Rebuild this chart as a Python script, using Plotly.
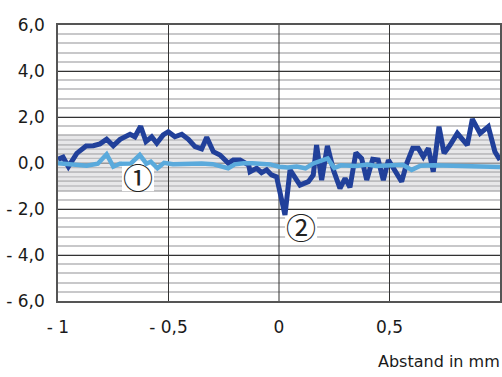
import plotly.graph_objects as go

# Series 1 (light blue)
s1_x = [-1.0, -0.95, -0.90, -0.87, -0.82, -0.78, -0.75, -0.72, -0.67, -0.63, -0.60, -0.58,
        -0.55, -0.52, -0.48, -0.44, -0.40, -0.35, -0.30, -0.25, -0.23, -0.20, -0.16, -0.12,
        -0.08, -0.04, 0.0, 0.04, 0.08, 0.12, 0.155, 0.22, 0.25, 0.28, 0.35, 0.40, 0.44, 0.50,
        0.56, 0.60, 0.64, 0.70, 0.80, 0.85, 0.92, 1.0]
s1_y = [-0.01, -0.05, -0.08, -0.12, -0.03, 0.38, -0.16, -0.03, -0.02, 0.35, -0.03, 0.06,
        -0.23, 0.01, -0.05, -0.03, -0.04, -0.02, -0.05, -0.16, -0.23, -0.06, -0.01, -0.01,
        -0.04, -0.06, -0.16, -0.20, -0.15, -0.23, -0.02, 0.20, -0.22, -0.10, -0.13, -0.07,
        -0.13, -0.10, -0.08, -0.30, -0.12, -0.10, -0.12, -0.14, -0.16, -0.17]

# Series 2 (dark blue)
s2_x = [-1.0, -0.977, -0.953, -0.915, -0.873, -0.840, -0.810, -0.780, -0.750, -0.719,
        -0.674, -0.652, -0.626, -0.602, -0.576, -0.553, -0.524, -0.501, -0.471, -0.440,
        -0.410, -0.380, -0.350, -0.327, -0.297, -0.267, -0.229, -0.207, -0.176, -0.137,
        -0.131, -0.101, -0.079, -0.056, -0.034, -0.011, 0.027, 0.05, 0.095, 0.133, 0.155,
        0.17, 0.193, 0.219, 0.246, 0.276, 0.299, 0.321, 0.348, 0.374, 0.397, 0.424, 0.449,
        0.472, 0.495, 0.517, 0.555, 0.578, 0.605, 0.63, 0.653, 0.676, 0.698, 0.724, 0.747,
        0.774, 0.807, 0.852, 0.875, 0.910, 0.947, 0.977, 1.0]
s2_y = [0.16, 0.25, -0.16, 0.42, 0.74, 0.75, 0.83, 1.03, 0.75, 1.03,
        1.25, 1.14, 1.60, 0.93, 1.14, 0.86, 1.22, 1.36, 1.14, 1.25,
        1.03, 0.71, 0.61, 1.12, 0.49, 0.35, -0.01, 0.13, 0.13, -0.09,
        -0.38, -0.23, -0.42, -0.30, -0.52, -0.60, -2.26, -0.30, -0.96, -0.81, -0.52,
        0.78, -0.74, 0.74, -0.30, -1.10, -0.67, -1.06, 0.45, 0.20, -0.74, 0.16, 0.13,
        -0.74, 0.13, -0.23, -0.81, -0.01, 0.64, 0.64, 0.27, 0.64, -0.38, 1.58, 0.42,
        0.78, 1.29, 0.78, 1.91, 1.29, 1.58, 0.49, 0.13]

x_ticks = [-1, -0.5, 0, 0.5, 1]
x_labels = ["- 1", "- 0,5", "0", "0,5", "1"]
y_ticks = [-6, -4, -2, 0, 2, 4, 6]
y_labels = ["- 6,0", "- 4,0", "- 2,0", "0,0", "2,0", "4,0", "6,0"]

# circled labels: text, x, y (data units)
labels = ["①", "②"]
label_x = [-0.638, 0.10]
label_y = [-0.57, -2.74]

band_lo, band_hi = -1.2, 1.2
band_lines = [round(-1.2 + 0.2 * i, 2) for i in range(13)]

FONT = "DejaVu Sans"

fig = go.Figure()
fig.add_trace(go.Scatter(x=s2_x, y=s2_y, mode="lines",
                         line=dict(color="#21409a", width=5), showlegend=False))
fig.add_trace(go.Scatter(x=s1_x, y=s1_y, mode="lines",
                         line=dict(color="#5aaadc", width=4.5), showlegend=False))

shapes = [dict(type="rect", xref="x", yref="y", x0=-1, x1=1, y0=band_lo, y1=band_hi,
               fillcolor="#e7e7e9", line=dict(width=0), layer="below")]
for v in band_lines:
    shapes.append(dict(type="line", xref="x", yref="y", x0=-1, x1=1, y0=v, y1=v,
                       line=dict(color="#bdbdbf", width=1.3), layer="between"))
for v in [-0.5, 0, 0.5]:
    shapes.append(dict(type="line", xref="x", yref="y", x0=v, x1=v, y0=-6, y1=6,
                       line=dict(color="#333333", width=1), layer="between"))
# white boxes behind circled labels (drawn under the traces)
for lx, ly in zip(label_x, label_y):
    shapes.append(dict(type="rect", xref="x", yref="y", xsizemode="pixel", ysizemode="pixel",
                       xanchor=lx, yanchor=ly, x0=-16, x1=16, y0=-15, y1=15,
                       fillcolor="white", line=dict(width=0), layer="between"))
fig.update_layout(shapes=shapes)

annotations = [dict(x=lx, y=ly, xref="x", yref="y", text=t, showarrow=False,
                    font=dict(family="Noto Sans CJK JP", size=30, color="#222222"))
               for t, lx, ly in zip(labels, label_x, label_y)]
annotations.append(dict(x=1, y=-0.22, xref="paper", yref="paper", xanchor="right", yanchor="middle",
                        xshift=2, text="Abstand in mm", showarrow=False,
                        font=dict(family=FONT, size=16, color="#1a1a1a")))

fig.update_layout(
    width=502, height=377,
    margin=dict(l=58, r=2, t=25, b=76, autoexpand=False),
    paper_bgcolor="white", plot_bgcolor="white",
    font=dict(family=FONT, size=17, color="#1a1a1a"),
    xaxis=dict(range=[-1, 1], tickvals=x_ticks, ticktext=x_labels,
               showgrid=False, zeroline=False, automargin=False,
               showline=True, mirror=True, linecolor="#555555", linewidth=1.5,
               ticks="", ticklabelstandoff=10, fixedrange=True),
    yaxis=dict(range=[-6, 6], tickvals=y_ticks, ticktext=y_labels,
               showgrid=True, gridcolor="#333333", gridwidth=1, zeroline=False, automargin=False,
               showline=True, mirror=True, linecolor="#555555", linewidth=1.5,
               ticks="", ticklabelstandoff=8,
               minor=dict(dtick=0.4, tick0=0, showgrid=True, gridcolor="#c8c8ca", gridwidth=1.5),
               fixedrange=True),
    annotations=annotations,
)

fig.write_html("out.html", config={"displayModeBar": False},
               post_script="document.body.style.margin='0';document.body.style.overflow='hidden';")
